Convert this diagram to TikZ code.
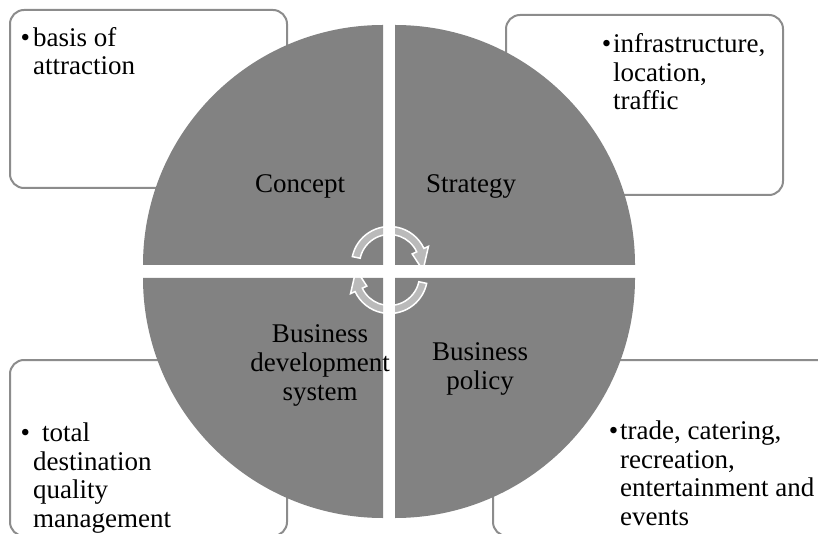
\documentclass[tikz,border=0pt]{standalone}
\usepackage{fontspec}
\setmainfont{Liberation Serif}
\usepackage{tikz}
\definecolor{figpie}{RGB}{130,130,130}
\definecolor{figbox}{RGB}{140,140,140}
\tikzset{
  quad/.style ={fill=figpie, draw=none},
  box/.style  ={draw=figbox, line width=2pt, rounded corners=14pt, fill=white},
  cyc/.style  ={draw=white, line width=1.5pt, fill=white, fill opacity=0.45},
  lab/.style  ={font=\fontsize{27}{29}\selectfont, align=center, inner sep=0pt, anchor=base},
  txt/.style  ={font=\fontsize{27}{28.5}\selectfont, align=left, inner sep=0pt, anchor=base west},
}

\begin{document}
\begin{tikzpicture}[x=1pt,y=1pt]
  \useasboundingbox (0,0) rectangle (818,533);
  \clip (0,0) rectangle (818,533);
  % boxes behind the circle
  \draw[box] (10,345) rectangle (287,523);
  \draw[box] (506,338) rectangle (783,518);
  \draw[box] (10,-3) rectangle (287,173);
  \draw[box] (493,-3) rectangle (860,173);
  % four quadrants
  \fill[quad] (383,268) -- (143,268) arc (180:90:240) -- cycle;
  \fill[quad] (395,268) -- (395,508) arc (90:0:240) -- cycle;
  \fill[quad] (383,255) -- (143,255) arc (180:270:240) -- cycle;
  \fill[quad] (395,255) -- (635,255) arc (0:-90:240) -- cycle;
  % cycle arrows
  \begin{scope}[shift={(389.5,268.5)}]
    \draw[cyc] (168:38) arc (168:25:38) -- (25:43) -- (-10:34) -- (25:25)
      -- (25:30) arc (25:168:30) -- cycle;
  \end{scope}
  \begin{scope}[shift={(389.5,257.5)}, rotate=180]
    \draw[cyc] (168:38) arc (168:25:38) -- (25:43) -- (-10:34) -- (25:25)
      -- (25:30) arc (25:168:30) -- cycle;
  \end{scope}
  % quadrant labels (base = last line)
  \node[lab] (concept) at (300,340) {Concept};
  \node[lab] (strategy) at (471,340) {Strategy};
  \node[lab] (bds) at (320,133) {Business\\development\\system};
  \node[lab] (policy) at (480,144) {Business\\policy};
  % box texts (base = last line)
  \node[txt] (attr) at (33,458) {\llap{•\hspace{3pt}}basis of\\attraction};
  \node[txt] (infra) at (613,423) {\llap{•\hspace{2pt}}infrastructure,\\location,\\traffic};
  \node[txt] (tdqm) at (33,6) {\llap{•\hspace{3pt}}\hspace{9pt}total\\destination\\quality\\management};
  \node[txt] (trade) at (620,8) {\llap{•\hspace{2pt}}trade, catering,\\recreation,\\entertainment and\\events};
\end{tikzpicture}
\end{document}
